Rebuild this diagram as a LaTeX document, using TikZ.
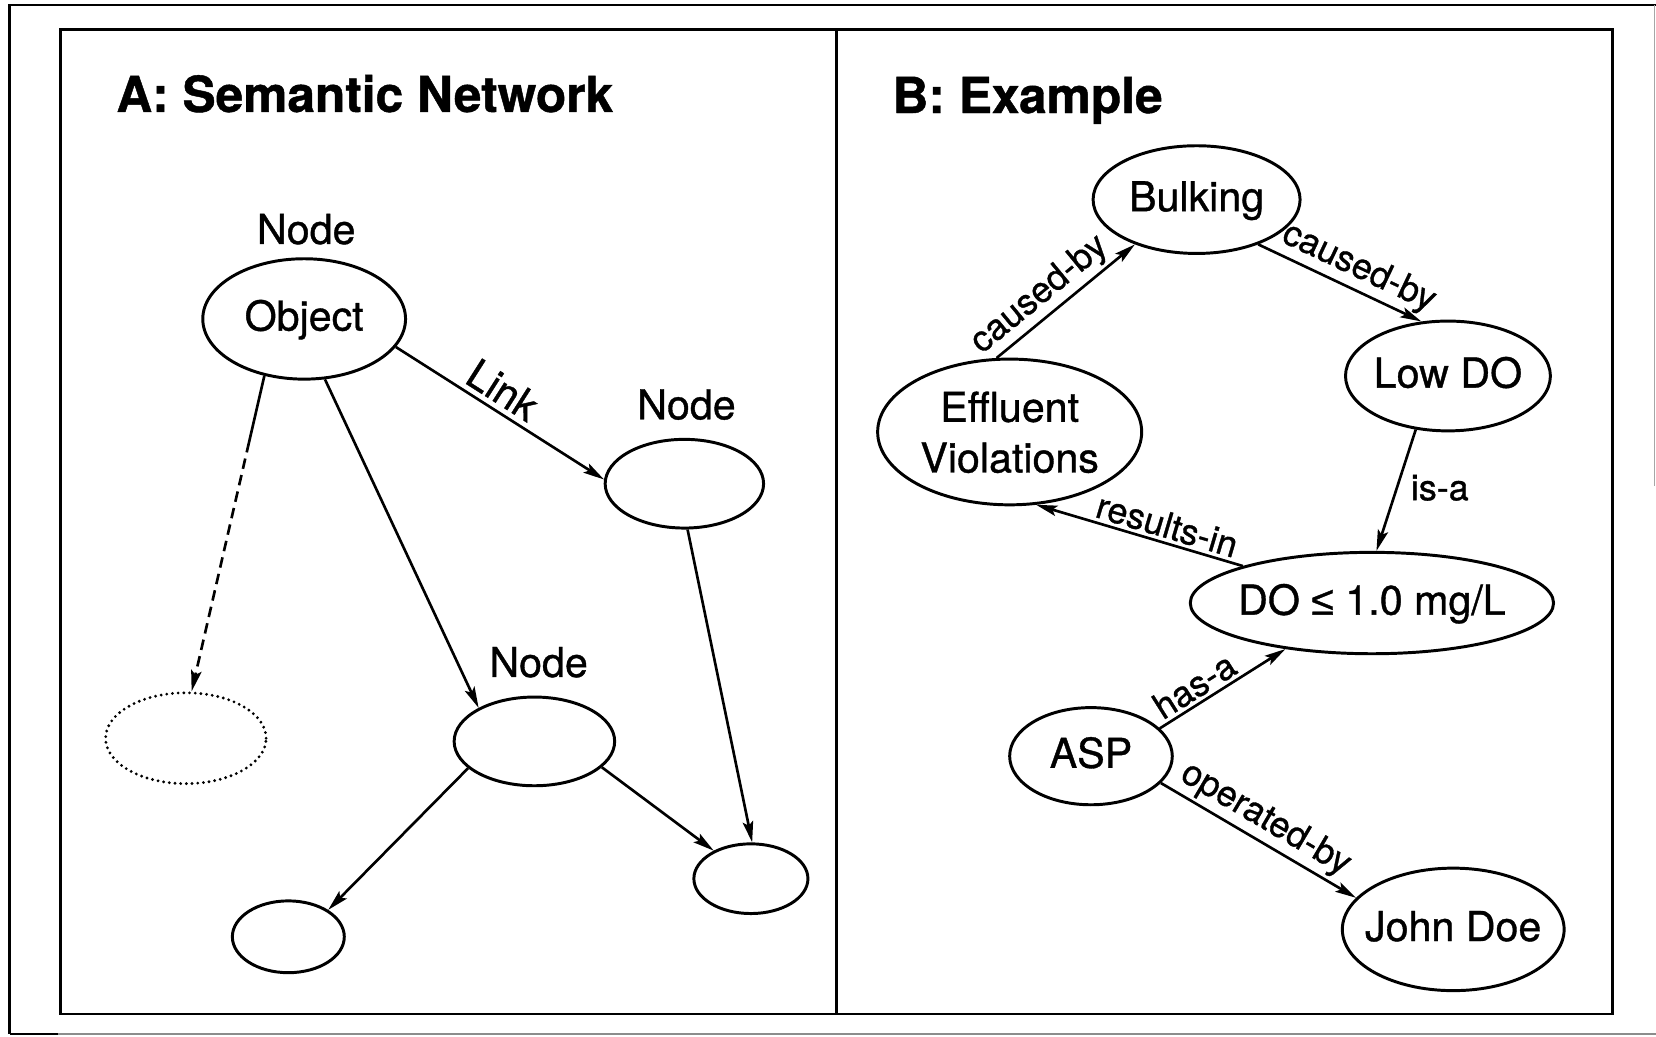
\documentclass[tikz,border=0pt]{standalone}
\usepackage{fontspec}
\setmainfont{TeX Gyre Heros}[RawFeature={embolden=0.9}]
\newfontfamily\symf{Liberation Sans}[RawFeature={embolden=0.9}]
\usetikzlibrary{shapes.geometric,arrows.meta,calc}
\begin{document}
\begin{tikzpicture}[x=1pt,y=-1pt,
  ell/.style={ellipse,draw,line width=2.8pt,inner sep=0pt,
    font=\fontsize{39}{48}\selectfont,text height=28pt,text depth=6pt},
  hd/.style={font=\fontsize{47}{56}\selectfont\bfseries,anchor=base west,inner sep=0pt},
  nlab/.style={font=\fontsize{39}{47}\selectfont,anchor=base,inner sep=0pt},
  link/.style={line width=2.5pt,-{Stealth[length=20pt,width=10pt,inset=4pt]}},
  elab/.style={font=\fontsize{34}{40}\selectfont,sloped,above,inner sep=3pt},
]
\useasboundingbox (0,0) rectangle (1568,981);

% outer and inner frames
\draw[line width=2.2pt] (9,979) -- (9,5) -- (1568,5);
\draw[line width=1.6pt,black!45] (9,979) -- (1568,979);
\draw[line width=2.2pt] (9,979) -- (55,979);
\draw[line width=1.5pt,black!35] (1566.5,5) -- (1566.5,460);
\draw[line width=2.6pt] (57,28) rectangle (1527,960);
\draw[line width=2.4pt] (792,28) -- (792,960);

% panel A
\node[hd] (ta) at (110,106) {A: Semantic Network};
\node[nlab] (l1) at (290,231) {Node};
\node[nlab] (l2) at (650,397) {Node};
\node[nlab] (l3) at (510,641) {Node};

\node[ell,minimum width=192pt,minimum height=114pt] (obj) at (288,302) {\makebox[0pt]{Object}};
\node[ell,minimum width=150pt,minimum height=84pt] (n2) at (648,458) {};
\node[ell,minimum width=152pt,minimum height=84pt] (n3) at (506,702) {};
\node[ellipse,draw,line width=3pt,line cap=round,dash pattern=on 0pt off 5.4pt,
      inner sep=0pt,minimum width=152pt,minimum height=86pt] (dot) at (176,699) {};
\node[ell,minimum width=106pt,minimum height=68pt] (bl) at (273,887) {};
\node[ell,minimum width=108pt,minimum height=66pt] (br) at (711,832) {};

\draw[link] (obj.-17) -- node[elab,pos=0.46,inner sep=5pt,font=\fontsize{39}{47}\selectfont] (lk) {Link} (n2.177);
\draw[link] (obj.-71) -- (n3.149);
\coordinate (brk) at ($(obj.235)!0.21!(dot.83)$);
\draw[line width=2.5pt] (obj.235) -- (brk);
\draw[link,dash pattern=on 10pt off 6pt] (brk) -- (dot.83);
\draw[link] (n2.-86) -- (br.88);
\draw[link] (n3.202) -- (bl.34);
\draw[link] (n3.-21) -- (br.143);

% panel B
\node[hd] (tb) at (845,107) {B: Example};

\node[ell,minimum width=196pt,minimum height=102pt] (bulk) at (1133,189) {\makebox[0pt]{Bulking}};
\node[ell,minimum width=194pt,minimum height=104pt] (lowdo) at (1371,356) {\makebox[0pt]{Low DO}};
\node[ell,minimum width=250pt,minimum height=138pt] (eff) at (956,409)
  {\makebox[0pt]{\begin{tabular}{@{}c@{}}Effluent\\Violations\end{tabular}}};
\node[ell,minimum width=344pt,minimum height=96pt] (do) at (1299,571)
  {\makebox[0pt]{DO {\symf ≤} 1.0 mg/L}};
\node[ell,minimum width=154pt,minimum height=92pt] (asp) at (1033,716) {\makebox[0pt]{ASP}};
\node[ell,minimum width=210pt,minimum height=116pt] (john) at (1376,880) {\makebox[0pt]{John Doe}};

\draw[link] (eff.100) -- node[elab,pos=0.41] (cb1) {caused-by} (bulk.216);
\draw[link] (bulk.-36) -- node[elab,pos=0.56] (cb2) {caused-by} (lowdo.116);
\draw[link] (lowdo.-121) -- node[right=10pt,pos=0.48,inner sep=2pt,font=\fontsize{34}{40}\selectfont] (isa) {is-a} (do.85);
\draw[link] (do.164) -- node[elab,pos=0.39] (ri) {results-in} (eff.-70);
\draw[link] (asp.22) -- node[elab,pos=0.35] (ha) {has-a} (do.208);
\draw[link] (asp.-21) -- node[elab,pos=0.48] (ob) {operated-by} (john.162);
\end{tikzpicture}
\end{document}
